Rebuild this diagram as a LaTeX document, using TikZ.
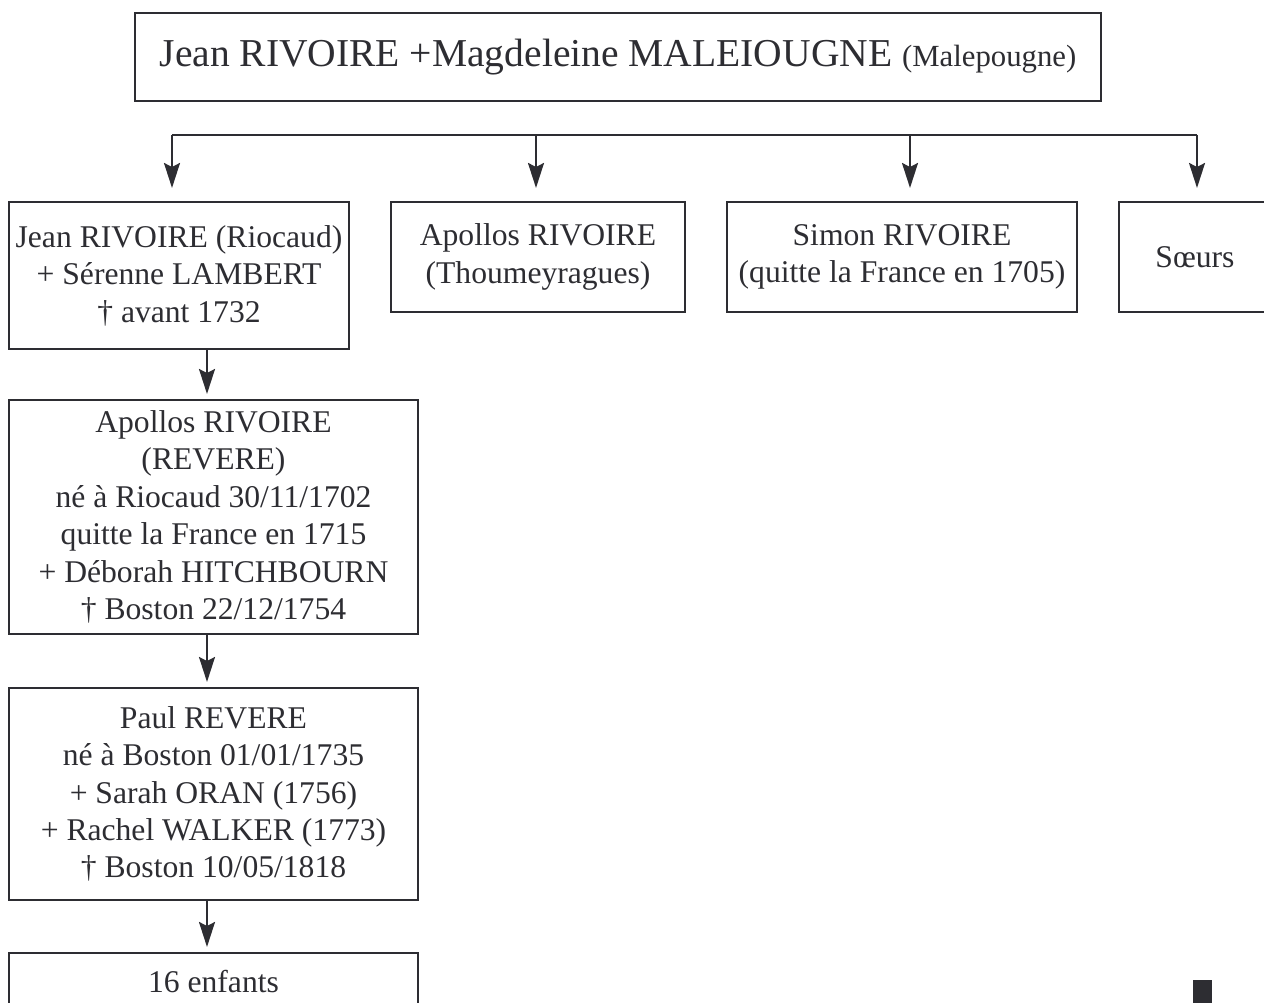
\documentclass[tikz,border=0pt]{standalone}
\usepackage{fontspec}
\setmainfont{Liberation Serif}
\usetikzlibrary{arrows.meta}
\definecolor{ink}{RGB}{45,45,50}

\begin{document}
\begin{tikzpicture}[x=0.02cm,y=-0.02cm]

        \useasboundingbox (0,0) rectangle (1264,1003);

        \begin{scope}[every node/.style={draw=ink, line width=1.2pt, text=ink, align=center, inner sep=0pt, font=\fontsize{18}{21.3}\selectfont}]
          \node[minimum width=19.32cm, minimum height=1.76cm, font=\fontsize{22.5}{27}\selectfont] (1) at (618,57)
            {Jean RIVOIRE +Magdeleine MALEIOUGNE {\fontsize{17.5}{21}\selectfont (Malepougne)}};
          \node[minimum width=6.8cm,  minimum height=2.94cm] (2) at (179,275.5) {Jean RIVOIRE (Riocaud)\\+ Sérenne LAMBERT\\† avant 1732};
          \node[minimum width=5.88cm, minimum height=2.2cm]  (3) at (538,257)   {Apollos RIVOIRE\\(Thoumeyragues)};
          \node[minimum width=7cm,    minimum height=2.2cm]  (4) at (902,257)   {Simon RIVOIRE\\(quitte la France en 1705)};
          \node[minimum width=3.04cm, minimum height=2.2cm]  (5) at (1195,257)  {Sœurs};
          \node[minimum width=8.18cm, minimum height=4.68cm] (6) at (213.5,517) {Apollos RIVOIRE\\(REVERE)\\né à Riocaud 30/11/1702\\quitte la France en 1715\\+ Déborah HITCHBOURN\\† Boston 22/12/1754};
          \node[minimum width=8.18cm, minimum height=4.24cm] (7) at (213.5,794) {Paul REVERE\\né à Boston 01/01/1735\\+ Sarah ORAN (1756)\\+ Rachel WALKER (1773)\\† Boston 10/05/1818};
          \node[minimum width=8.18cm, minimum height=1.14cm] (8) at (213.5,981.5) {16 enfants};
        \end{scope}

        \coordinate (b1) at (172,135);
        \coordinate (b2) at (536,135);
        \coordinate (b3) at (910,135);
        \coordinate (b4) at (1197,135);
        \coordinate (c1) at (207,349);
        \draw[ink, line width=1.2pt] (b1) -- (b4);

        \begin{scope}[every edge/.style={draw=ink, line width=1.2pt, -{Stealth[length=0.5cm,width=0.32cm,inset=0.08cm]}}]
          \path (b1) edge[shorten >=0.26cm] (b1 |- 2.north);
          \path (b2) edge[shorten >=0.26cm] (b2 |- 3.north);
          \path (b3) edge[shorten >=0.26cm] (b3 |- 4.north);
          \path (b4) edge[shorten >=0.26cm] (b4 |- 5.north);
          \path (c1) edge[shorten >=0.1cm] (c1 |- 6.north);
          \path (c1 |- 6.south) edge[shorten >=0.1cm] (c1 |- 7.north);
          \path (c1 |- 7.south) edge[shorten >=0.1cm] (c1 |- 8.north);
        \end{scope}

        \fill[ink] (1193,980) rectangle (1212,1003);

      \end{tikzpicture}
\end{document}
